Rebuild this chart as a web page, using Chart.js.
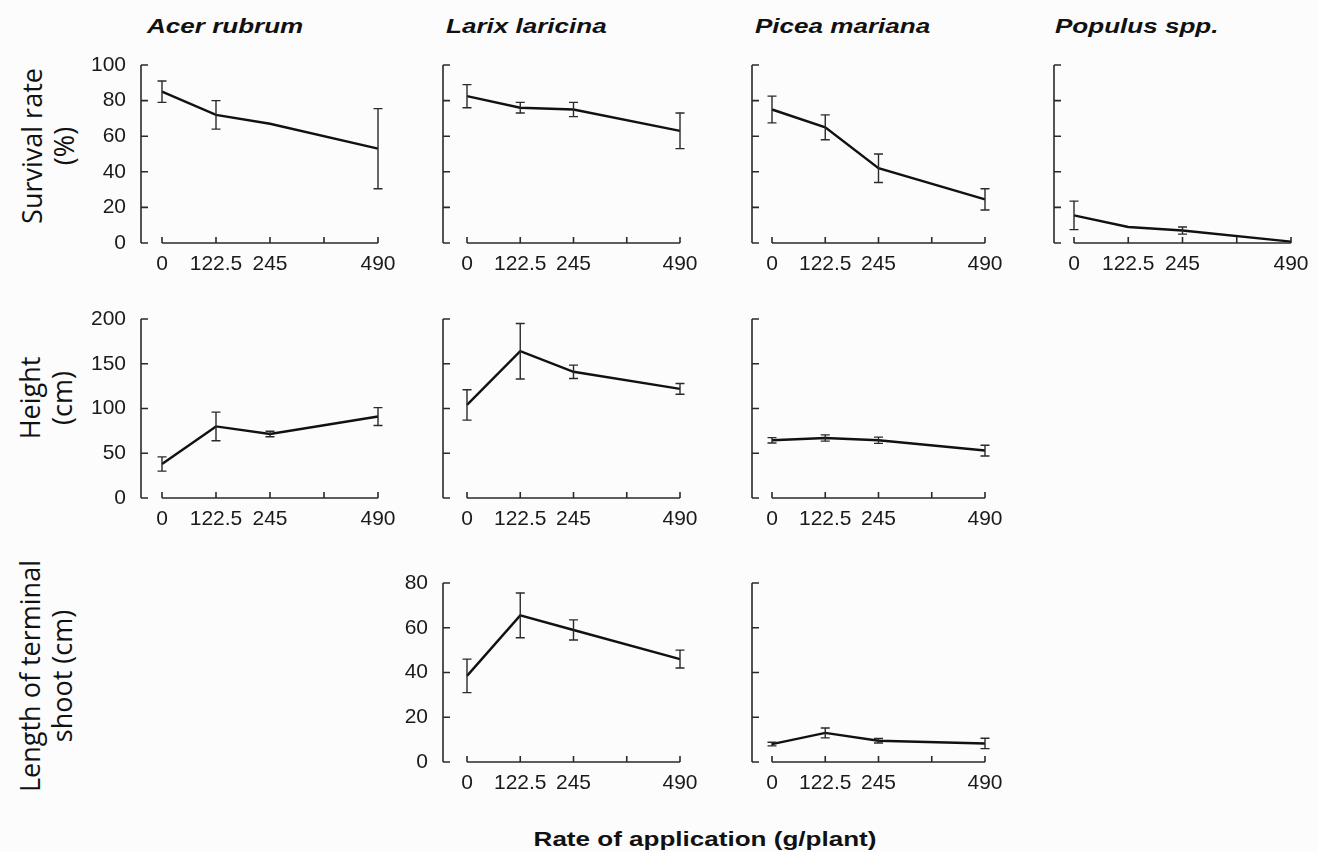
<!DOCTYPE html>
<html>
<head>
<meta charset="utf-8">
<script src="https://cdn.jsdelivr.net/npm/chart.js@4/dist/chart.umd.min.js"></script>
<style>
  html, body { margin: 0; padding: 0; }
  body { width: 1318px; height: 852px; position: relative; overflow: hidden; background: #fcfcfc; }
  canvas { position: absolute; }
  .title { position: absolute; font: italic bold 21px "Liberation Sans", Arial, sans-serif; line-height: 21px;
           color: #111; white-space: nowrap; transform: scaleX(1.24); transform-origin: left center; }
  .ytitle { position: absolute; font: 27px "Open Sans", "Noto Sans", sans-serif; line-height: 32px; color: #111;
            text-align: center; white-space: nowrap; transform: translate(-50%, -50%) rotate(-90deg); }
  .xtitle { position: absolute; font: bold 21px "Liberation Sans", Arial, sans-serif; line-height: 21px; color: #111;
            white-space: nowrap; transform: translate(-50%, -50%) scaleX(1.24); }
</style>
</head>
<body>
<div class="title" style="left:147px; top:15px">Acer rubrum</div>
<div class="title" style="left:446px; top:15px">Larix laricina</div>
<div class="title" style="left:755px; top:15px">Picea mariana</div>
<div class="title" style="left:1055px; top:15px">Populus spp.</div>
<div class="ytitle" style="left:48px; top:146px">Survival rate<br>(%)</div>
<div class="ytitle" style="left:46px; top:398px">Height<br>(cm)</div>
<div class="ytitle" style="left:46px; top:676px">Length of terminal<br>shoot (cm)</div>
<div class="xtitle" style="left:705px; top:838px">Rate of application (g/plant)</div>

<script>
// x: rate of application (g/plant)
const rates = [0, 122.5, 245, 490];
const xTickValues = [0, 122.5, 245, 367.5, 490];
const xTickLabels = ['0', '122.5', '245', '', '490'];

// y ticks per row
const survivalTicks = [0, 20, 40, 60, 80, 100];
const heightTicks = [0, 50, 100, 150, 200];
const shootTicks = [0, 20, 40, 60, 80];

// survival rate (%) and error
const survivalAcer = [85, 72, 67, 53];
const survivalAcerErr = [6, 8, 0, 22.5];
const survivalLarix = [82.5, 76, 75, 63];
const survivalLarixErr = [6.5, 3, 4, 10];
const survivalPicea = [75, 65, 42, 24.5];
const survivalPiceaErr = [7.5, 7, 8, 6];
const survivalPopulus = [15.5, 9, 7, 0.8];
const survivalPopulusErr = [8, 0, 2, 0];

// height (cm)
const heightAcer = [38, 80, 71.5, 91];
const heightAcerErr = [8, 16, 3, 10];
const heightLarix = [104, 164, 141, 122];
const heightLarixErr = [17, 31, 7.5, 6];
const heightPicea = [64.5, 67, 64.5, 53];
const heightPiceaErr = [3, 3.5, 3.5, 6];

// length of terminal shoot (cm)
const shootLarix = [38.5, 65.5, 59, 46];
const shootLarixErr = [7.5, 10, 4.5, 4];
const shootPicea = [8, 13, 9.5, 8.3];
const shootPiceaErr = [0.8, 2.2, 1, 2.3];

// layout of the grid (pixels)
const colAxisX = [141, 443, 752, 1054];
const colX0 = [162, 467, 772, 1074];
const colX1 = [378, 680, 985, 1291];
const rowTop = [65, 319, 583];
const rowBottom = [243, 498, 762];

function panelPlugin(cfg) {
  return {
    id: 'panel',
    afterDatasetsDraw(chart) {
      const { ctx, scales: { x, y } } = chart;
      ctx.save();
      ctx.strokeStyle = '#2a2a2a';
      ctx.lineWidth = 1.4;
      ctx.beginPath();
      cfg.values.forEach((v, i) => {
        const e = cfg.err[i];
        if (!e) return;
        const px = x.getPixelForValue(rates[i]);
        const t = y.getPixelForValue(v + e), b = y.getPixelForValue(Math.max(0, v - e));
        ctx.moveTo(px, t); ctx.lineTo(px, b);
        ctx.moveTo(px - 4.5, t); ctx.lineTo(px + 4.5, t);
        ctx.moveTo(px - 4.5, b); ctx.lineTo(px + 4.5, b);
      });
      ctx.stroke();
      ctx.restore();
    },
    afterDraw(chart) {
      const { ctx, chartArea, scales: { x, y } } = chart;
      const ax = chartArea.left - cfg.gap;
      const by = y.getPixelForValue(0);
      ctx.save();
      ctx.strokeStyle = '#2a2a2a';
      ctx.lineWidth = 1.6;
      ctx.fillStyle = '#1a1a1a';
      ctx.font = '21px "Liberation Sans", Arial, sans-serif';
      ctx.beginPath();
      // y axis with inward ticks
      ctx.moveTo(ax, y.getPixelForValue(cfg.yTicks[cfg.yTicks.length - 1]));
      ctx.lineTo(ax, by);
      ctx.textAlign = 'right';
      ctx.textBaseline = 'middle';
      cfg.yTicks.forEach(v => {
        const py = y.getPixelForValue(v);
        ctx.moveTo(ax, py); ctx.lineTo(ax + 7, py);
        if (cfg.yLabels) ctx.fillText(String(v), ax - 15, py);
      });
      // x axis with inward ticks
      ctx.moveTo(x.getPixelForValue(0), by);
      ctx.lineTo(x.getPixelForValue(490), by);
      ctx.textAlign = 'center';
      xTickValues.forEach((v, i) => {
        const px = x.getPixelForValue(v);
        ctx.moveTo(px, by); ctx.lineTo(px, by - 6);
        if (xTickLabels[i]) ctx.fillText(xTickLabels[i], px, by + 21);
      });
      ctx.stroke();
      ctx.restore();
    }
  };
}

function makePanel(row, col, values, err, yTicks, yLabels) {
  const left = colAxisX[col] - 75;
  const top = rowTop[row] - 12;
  const width = colX1[col] + 30 - left;
  const height = rowBottom[row] + 38 - top;
  const canvas = document.createElement('canvas');
  canvas.width = width;
  canvas.height = height;
  canvas.style.left = left + 'px';
  canvas.style.top = top + 'px';
  document.body.appendChild(canvas);

  new Chart(canvas.getContext('2d'), {
    type: 'line',
    data: {
      datasets: [{
        data: rates.map((r, i) => ({ x: r, y: values[i] })),
        borderColor: '#111',
        borderWidth: 2.4,
        pointRadius: 0,
        tension: 0,
        clip: false
      }]
    },
    options: {
      responsive: false,
      animation: false,
      layout: {
        padding: {
          left: colX0[col] - left,
          right: width - (colX1[col] - left),
          top: rowTop[row] - top,
          bottom: height - (rowBottom[row] - top)
        }
      },
      scales: {
        x: { type: 'linear', display: false, min: 0, max: 490 },
        y: { display: false, min: 0, max: yTicks[yTicks.length - 1] }
      },
      plugins: { legend: { display: false }, tooltip: { enabled: false } }
    },
    plugins: [panelPlugin({ values, err, yTicks, yLabels, gap: colX0[col] - colAxisX[col] })]
  });
}

makePanel(0, 0, survivalAcer, survivalAcerErr, survivalTicks, true);
makePanel(0, 1, survivalLarix, survivalLarixErr, survivalTicks, false);
makePanel(0, 2, survivalPicea, survivalPiceaErr, survivalTicks, false);
makePanel(0, 3, survivalPopulus, survivalPopulusErr, survivalTicks, false);
makePanel(1, 0, heightAcer, heightAcerErr, heightTicks, true);
makePanel(1, 1, heightLarix, heightLarixErr, heightTicks, false);
makePanel(1, 2, heightPicea, heightPiceaErr, heightTicks, false);
makePanel(2, 1, shootLarix, shootLarixErr, shootTicks, true);
makePanel(2, 2, shootPicea, shootPiceaErr, shootTicks, false);
</script>
</body>
</html>
